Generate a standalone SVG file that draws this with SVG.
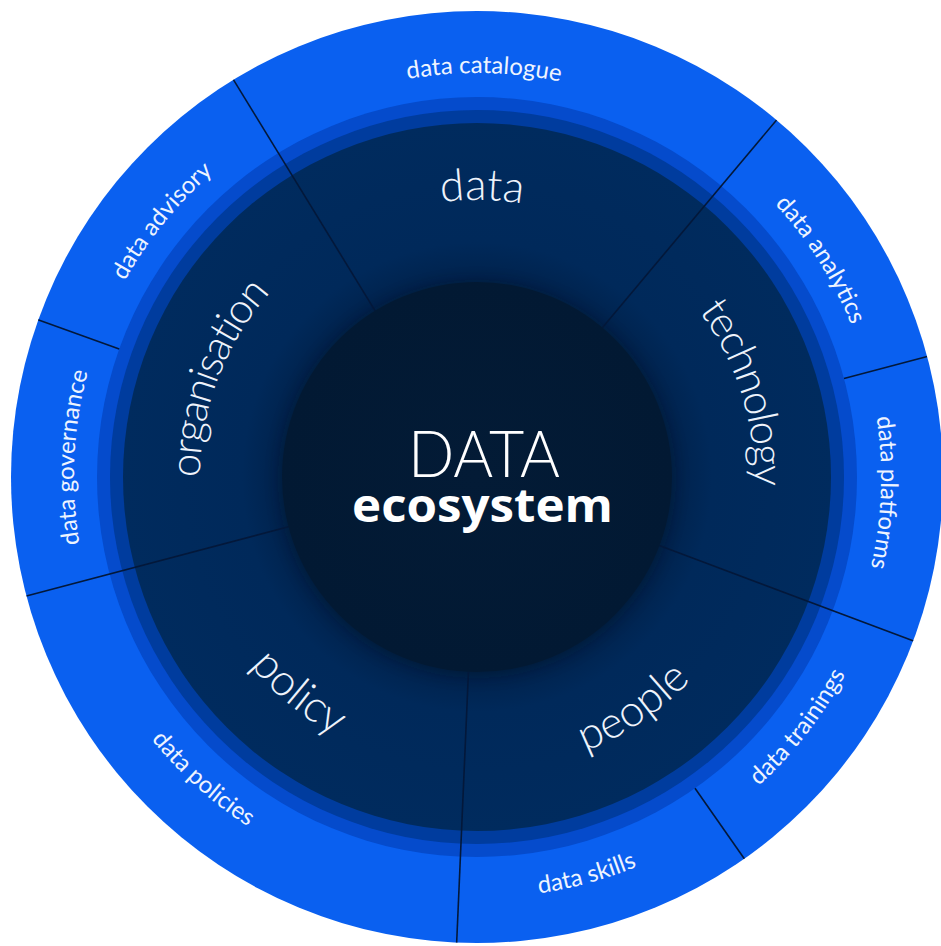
<svg xmlns="http://www.w3.org/2000/svg" xmlns:xlink="http://www.w3.org/1999/xlink" width="941" height="946" viewBox="0 0 941 946">
  <style>
    .outer { font-family: "Lato", "Liberation Sans", sans-serif; font-size: 24px; fill: #eef4ff; }
    .mid { font-family: "Lato", "Liberation Sans", sans-serif; font-weight: 300; font-size: 44px; fill: #eef3fb; }
    .tight { font-size: 42px; letter-spacing: -1.6px; }
    .divider { stroke: #03183a; stroke-width: 1.6; fill: none; }
  </style>
  <defs>
    <radialGradient id="navyGrad" cx="477" cy="477" r="356" gradientUnits="userSpaceOnUse">
      <stop offset="0.55" stop-color="#00224c"/>
      <stop offset="0.66" stop-color="#00295a"/>
      <stop offset="1" stop-color="#002b5e"/>
    </radialGradient>
    <radialGradient id="coreGrad" cx="477" cy="477" r="195" gradientUnits="userSpaceOnUse">
      <stop offset="0" stop-color="#031b36"/>
      <stop offset="1" stop-color="#021933"/>
    </radialGradient>
    <filter id="blur" x="-30%" y="-30%" width="160%" height="160%">
      <feGaussianBlur stdDeviation="7"/>
    </filter>
    <clipPath id="discClip">
      <circle cx="477" cy="477" r="466"/>
    </clipPath>
    <!-- outer label paths -->
    <path id="p-catalogue" d="M222.8,163.1 A404,404 0 0 1 742.1,172.1"/>
    <path id="p-analytics" d="M664.8,119.3 A404,404 0 0 1 880.7,460.8"/>
    <path id="p-platforms" d="M834.4,288.6 A404,404 0 0 1 818.9,692.3"/>
    <path id="p-trainings" d="M634.3,864.3 A418,418 0 0 0 891.0,534.5"/>
    <path id="p-skills" d="M370.9,884.4 A421,421 0 0 0 776.8,772.6"/>
    <path id="p-policies" d="M79.0,604.8 A418,418 0 0 0 388.7,885.6"/>
    <path id="p-governance" d="M118.6,661.2 A403,403 0 0 1 138.2,258.7"/>
    <path id="p-advisory" d="M79.1,413.3 A403,403 0 0 1 333.3,100.5"/>
    <!-- middle label paths -->
    <path id="p-data" d="M267.9,295.3 A277,277 0 0 1 692.3,302.7"/>
    <path id="p-technology" d="M582.6,220.9 A277,277 0 0 1 710.9,625.4"/>
    <path id="p-organisation" d="M235.4,612.6 A277,277 0 0 1 385.5,215.6"/>
    <path id="p-people" d="M395.7,760.6 A295,295 0 0 0 770.4,507.8"/>
    <path id="p-policy" d="M182.0,479.6 A295,295 0 0 0 530.8,767.1"/>
  </defs>

  <rect width="941" height="946" fill="#ffffff"/>

  <g id="rings">
    <circle cx="477" cy="477" r="466" fill="#0a60f0"/>
    <circle cx="477" cy="477" r="380" fill="#054bcc"/>
    <circle cx="477" cy="477" r="367" fill="#003c9e"/>
    <circle cx="477" cy="477" r="354" fill="url(#navyGrad)"/>
    <circle cx="477" cy="479" r="199" fill="#000c1c" opacity="0.3" filter="url(#blur)"/>
  </g>

  <g id="connectors" clip-path="url(#discClip)">
    <line class="divider" x1="375.6" y1="311.6" x2="231.4" y2="76.3"/>
    <line class="divider" x1="601.7" y1="328.4" x2="779.1" y2="117.0"/>
    <line class="divider" x1="658.6" y1="545.2" x2="917.0" y2="642.3"/>
    <line class="divider" x1="468.5" y1="670.8" x2="456.5" y2="946.5"/>
    <line class="divider" x1="289.4" y1="526.5" x2="22.6" y2="597.0"/>
    <line class="divider" x1="119.2" y1="348.9" x2="34.5" y2="318.6"/>
    <line class="divider" x1="844.0" y1="378.6" x2="931.0" y2="355.4"/>
    <line class="divider" x1="695.0" y1="788.3" x2="746.6" y2="862.0"/>
  </g>

  <g id="core">
    <circle cx="477" cy="477" r="195" fill="url(#coreGrad)"/>
    <text x="484" y="477" text-anchor="middle" font-family="Lato, 'Liberation Sans', sans-serif" font-weight="300" font-size="66" fill="#ffffff" textLength="152" lengthAdjust="spacingAndGlyphs">DATA</text>
    <text x="482.5" y="522" text-anchor="middle" font-family="'Open Sans', 'Liberation Sans', sans-serif" font-weight="700" font-size="46" fill="#ffffff" textLength="261" lengthAdjust="spacingAndGlyphs">ecosystem</text>
  </g>

  <g id="node-data"><text class="mid"><textPath href="#p-data" startOffset="50%" text-anchor="middle">data</textPath></text></g>
  <g id="node-technology"><text class="mid tight"><textPath href="#p-technology" startOffset="50%" text-anchor="middle">technology</textPath></text></g>
  <g id="node-people"><text class="mid"><textPath href="#p-people" startOffset="50%" text-anchor="middle">people</textPath></text></g>
  <g id="node-policy"><text class="mid"><textPath href="#p-policy" startOffset="50%" text-anchor="middle">policy</textPath></text></g>
  <g id="node-organisation"><text class="mid tight"><textPath href="#p-organisation" startOffset="50%" text-anchor="middle">organisation</textPath></text></g>

  <g id="node-data-catalogue"><text class="outer"><textPath href="#p-catalogue" startOffset="50%" text-anchor="middle">data catalogue</textPath></text></g>
  <g id="node-data-analytics"><text class="outer"><textPath href="#p-analytics" startOffset="50%" text-anchor="middle">data analytics</textPath></text></g>
  <g id="node-data-platforms"><text class="outer"><textPath href="#p-platforms" startOffset="50%" text-anchor="middle">data platforms</textPath></text></g>
  <g id="node-data-trainings"><text class="outer"><textPath href="#p-trainings" startOffset="50%" text-anchor="middle">data trainings</textPath></text></g>
  <g id="node-data-skills"><text class="outer"><textPath href="#p-skills" startOffset="50%" text-anchor="middle">data skills</textPath></text></g>
  <g id="node-data-policies"><text class="outer"><textPath href="#p-policies" startOffset="50%" text-anchor="middle">data policies</textPath></text></g>
  <g id="node-data-governance"><text class="outer"><textPath href="#p-governance" startOffset="50%" text-anchor="middle">data governance</textPath></text></g>
  <g id="node-data-advisory"><text class="outer"><textPath href="#p-advisory" startOffset="50%" text-anchor="middle">data advisory</textPath></text></g>
</svg>
